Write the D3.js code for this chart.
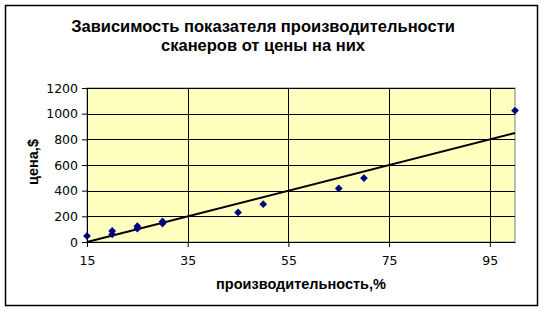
<!DOCTYPE html>
<html>
<head>
<meta charset="utf-8">
<title>Scanners</title>
<style>
    body { margin: 0; background: #fff; }
    .title { font-family: "Liberation Sans", Arial, sans-serif; font-weight: bold; font-size: 16.5px; text-anchor: middle; }
    .tick text { font-family: "DejaVu Sans", Verdana, sans-serif; font-size: 12.5px; fill: #000; }
    .axisTitle { font-family: "Liberation Sans", Arial, sans-serif; font-weight: bold; font-size: 14.5px; text-anchor: middle; }
</style>
<script src="https://d3js.org/d3.v7.min.js"></script>
</head>
<body>
<svg id="chart" width="545" height="312"></svg>
<script>
// performance, % (x) and price, $ (y)
var perf  = [15, 20, 20, 25, 25, 30, 30, 45, 50, 65, 70, 100];
var price = [47, 60, 86, 105, 123, 144, 160, 230, 295, 417, 498, 1024];

// linear trend at both ends
var trendX = [15, 100];
var trendY = [0, 850];

var xTicks = [15, 35, 55, 75, 95];
var yTicks = [0, 200, 400, 600, 800, 1000, 1200];

var titleLines = ["Зависимость показателя производительности", "сканеров от цены на них"];
var xTitle = "производительность,%";
var yTitle = "цена,$";

var svg = d3.select("#chart");

var plot = { left: 87, top: 88, right: 515, bottom: 242 };

var x = d3.scaleLinear().domain([15, 100]).range([plot.left, plot.right]);
var y = d3.scaleLinear().domain([0, 1200]).range([plot.bottom, plot.top]);

// outer frame
svg.append("rect")
    .attr("x", 5.5).attr("y", 5.5)
    .attr("width", 532).attr("height", 300)
    .attr("fill", "#fff")
    .attr("stroke", "#000")
    .attr("stroke-width", 1.5);

// title
svg.selectAll(".title")
    .data(titleLines)
    .enter()
    .append("text")
    .attr("class", "title")
    .attr("x", 263)
    .attr("y", function(d, i) { return 32 + i * 19; })
    .text(function(d) { return d; });

// plot area
svg.append("rect")
    .attr("x", plot.left).attr("y", plot.top)
    .attr("width", plot.right - plot.left).attr("height", plot.bottom - plot.top)
    .attr("fill", "#ffffc0")
    .attr("stroke", "#808080")
    .attr("stroke-width", 1);

// grid
svg.append("g")
    .selectAll("line")
    .data(yTicks.slice(1))
    .enter()
    .append("line")
    .attr("x1", plot.left).attr("x2", plot.right)
    .attr("y1", function(d) { return Math.round(y(d)) + 0.5; })
    .attr("y2", function(d) { return Math.round(y(d)) + 0.5; })
    .attr("stroke", "#000");

svg.append("g")
    .selectAll("line")
    .data(xTicks.slice(1))
    .enter()
    .append("line")
    .attr("y1", plot.top).attr("y2", plot.bottom)
    .attr("x1", function(d) { return Math.round(x(d)) + 0.5; })
    .attr("x2", function(d) { return Math.round(x(d)) + 0.5; })
    .attr("stroke", "#000");

// axes
var xAxis = svg.append("g")
    .attr("transform", "translate(0," + plot.bottom + ")")
    .call(d3.axisBottom(x).tickValues(xTicks).tickFormat(d3.format("d")).tickSize(5).tickPadding(9).tickSizeOuter(0));

var yAxis = svg.append("g")
    .attr("transform", "translate(" + plot.left + ",0)")
    .call(d3.axisLeft(y).tickValues(yTicks).tickFormat(d3.format("d")).tickSize(5).tickPadding(4).tickSizeOuter(0));

xAxis.select(".domain").attr("stroke", "#000");
yAxis.select(".domain").attr("stroke", "#000");
svg.selectAll(".tick text").attr("font-family", null).attr("font-size", null);

// trend line
svg.append("line")
    .attr("x1", x(trendX[0])).attr("y1", y(trendY[0]))
    .attr("x2", x(trendX[1])).attr("y2", y(trendY[1]))
    .attr("stroke", "#000")
    .attr("stroke-width", 2);

// points
svg.append("g")
    .selectAll("path")
    .data(perf)
    .enter()
    .append("path")
    .attr("d", d3.symbol().type(d3.symbolSquare).size(30))
    .attr("transform", function(d, i) { return "translate(" + x(d) + "," + y(price[i]) + ") rotate(45)"; })
    .attr("fill", "#000080");

// axis titles
svg.append("text")
    .attr("class", "axisTitle")
    .attr("x", (plot.left + plot.right) / 2)
    .attr("y", 289)
    .text(xTitle);

svg.append("text")
    .attr("class", "axisTitle")
    .attr("transform", "translate(38,162) rotate(-90)")
    .text(yTitle);
</script>
</body>
</html>
